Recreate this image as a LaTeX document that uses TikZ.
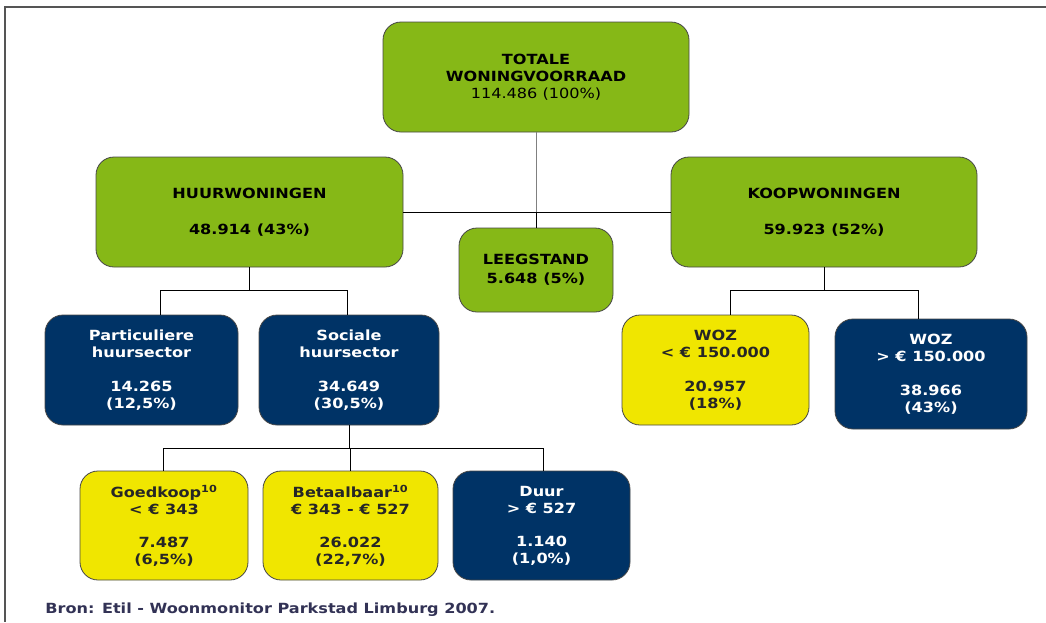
\documentclass[tikz,border=0pt]{standalone}
\usepackage{fontspec}
\setmainfont{DejaVu Sans}[FakeStretch=1.15]
\usepackage{tikz}
\usetikzlibrary{positioning}
\definecolor{grasgroen}{RGB}{134,184,23}
\definecolor{donkerblauw}{RGB}{0,51,102}
\definecolor{geel}{RGB}{240,230,0}
\definecolor{randgrijs}{RGB}{70,70,70}
\definecolor{framegrijs}{RGB}{85,85,85}
\definecolor{bronkleur}{RGB}{50,50,85}
\begin{document}
\begin{tikzpicture}[x=1pt,y=-1pt,line width=.8,
  box/.style={draw=randgrijs,line width=.8,rounded corners=18pt,inner sep=0pt,align=center,font=\bfseries\fontsize{14}{17}\selectfont},
  green node/.style={box,fill=grasgroen,text=black},
  blue node/.style={box,fill=donkerblauw,text=white},
  yellow node/.style={box,fill=geel,text=black!85}]
\useasboundingbox (0,0) rectangle (1046,622);
\draw[framegrijs,line width=2.5] (1046,7) -- (5,7) -- (5,622);
\node[green node,minimum width=306,minimum height=110] at (536,77) (Tot) {TOTALE\\WONINGVOORRAAD\\\mdseries 114.486 (100\%)};
\node[green node,minimum width=307,minimum height=110] at (249.5,212) (Huur) {HUURWONINGEN\\[19pt]48.914 (43\%)};
\node[green node,minimum width=306,minimum height=110] at (824,212) (Koop) {KOOPWONINGEN\\[19pt]59.923 (52\%)};
\node[green node,minimum width=154,minimum height=84] at (536,270) (Leeg) {LEEGSTAND\\[2pt]5.648 (5\%)};
\node[blue node,minimum width=193,minimum height=110] at (141.5,370) (Part) {Particuliere\\huursector\\[17pt]14.265\\(12,5\%)};
\node[blue node,minimum width=180,minimum height=110] at (349,370) (Soc) {Sociale\\huursector\\[17pt]34.649\\(30,5\%)};
\node[yellow node,minimum width=187,minimum height=110] at (715.5,370) (WozLaag) {WOZ\\< € 150.000\\[17pt]20.957\\(18\%)};
\node[blue node,minimum width=192,minimum height=110] at (931,374) (WozHoog) {WOZ\\> € 150.000\\[17pt]38.966\\(43\%)};
\node[yellow node,minimum width=168,minimum height=109] at (164,525.5) (Goed) {Goedkoop\textsuperscript{10}\\< € 343\\[16pt]7.487\\(6,5\%)};
\node[yellow node,minimum width=175,minimum height=109] at (350.5,525.5) (Bet) {Betaalbaar\textsuperscript{10}\\€ 343 - € 527\\[16pt]26.022\\(22,7\%)};
\node[blue node,minimum width=177,minimum height=109] at (541.5,525.5) (Duur) {Duur\\> € 527\\[16pt]1.140\\(1,0\%)};
\node[anchor=base west,inner sep=0pt,font=\bfseries\fontsize{14}{17}\selectfont,text=bronkleur] at (45,613) (Bron) {Bron: Etil - Woonmonitor Parkstad Limburg 2007.};
% verbindingen
\coordinate (TotJ) at (536,212);
\coordinate (HuurL) at (160,290);
\coordinate (HuurR) at (347,290);
\coordinate (KoopL) at (730,290);
\coordinate (KoopR) at (918,290);
\coordinate (SocL) at (163,448);
\coordinate (SocM) at (350,448);
\coordinate (SocR) at (543,448);
\draw[gray] (Tot) -- (TotJ);
\draw (TotJ) -- (Leeg);
\draw (Huur) -- (Koop);
\draw (Huur) -- (Huur |- HuurL);
\draw (HuurL |- Part.north) -- (HuurL) -- (HuurR) -- (HuurR |- Soc.north);
\draw (Koop) -- (Koop |- KoopL);
\draw (KoopL |- WozLaag.north) -- (KoopL) -- (KoopR) -- (KoopR |- WozHoog.north);
\draw (Soc) -- (Soc |- SocM);
\draw (SocL |- Goed.north) -- (SocL) -- (SocR) -- (SocR |- Duur.north);
\draw (SocM) -- (SocM |- Bet.north);
\end{tikzpicture}
\end{document}
